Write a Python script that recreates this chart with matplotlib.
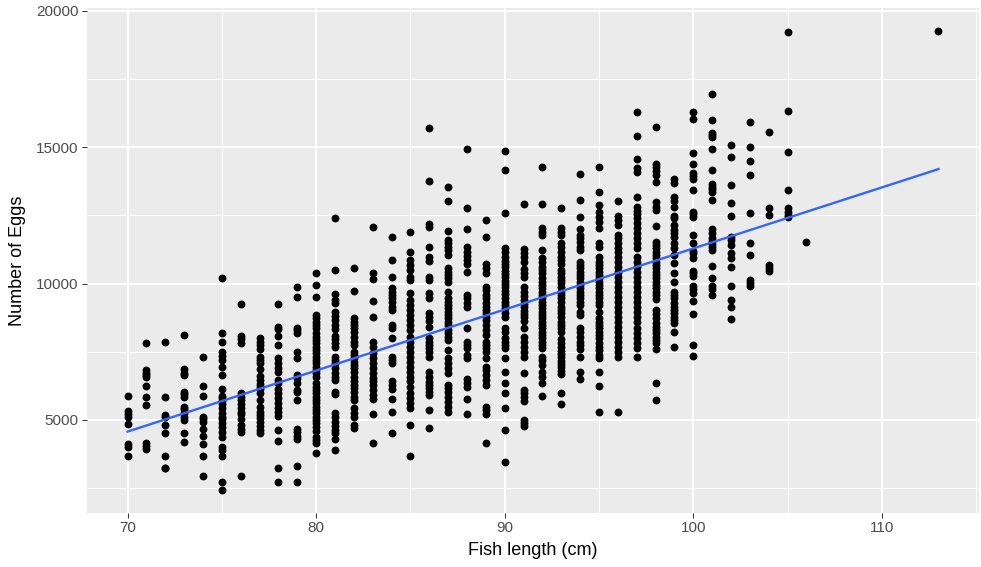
import numpy as np
import matplotlib
matplotlib.use("Agg")
import matplotlib.pyplot as plt
from matplotlib.ticker import MultipleLocator

# egg counts, one list per fish length (cm)
len70 = [5880, 5330, 5210, 5120, 4840, 4110, 4020, 3680]
len71 = [7830, 6830, 6730, 6640, 6560, 6250, 5830, 5550, 4150, 4050, 3950]
len72 = [7870, 5830, 5180, 5120, 4820, 4510, 3660, 3250, 3220]
len73 = [8100, 6860, 6730, 6640, 6030, 5940, 5850, 5490, 5390, 5270, 5100, 5000, 4510, 4180]
len74 = [7320, 6250, 5880, 5120, 5030, 4940, 4680, 4410, 4110, 3680, 2950]
len75 = [10190, 8200, 7870, 7500, 7340, 7200, 6950, 6640, 6120, 5880, 5800, 5710, 5590,
         5430, 5270, 5120, 5030, 4900, 4730, 4570, 4390, 4020, 3880, 3660, 2740, 2440]
len76 = [9250, 8080, 7960, 7830, 6000, 5850, 5730, 5590, 5430, 5300, 5210, 5030, 4820,
         4660, 4570, 2950]
len77 = [7990, 7870, 7750, 7590, 7320, 7200, 7100, 6860, 6610, 6470, 6320, 6220, 6120,
         5980, 5730, 5490, 5300, 5180, 5060, 4940, 4780, 4630, 4510]
len78 = [9240, 8420, 8320, 8080, 7750, 7260, 7080, 6890, 6770, 6470, 6370, 6120, 5980,
         5800, 5610, 5430, 5300, 5150, 4630, 4240, 3250, 2730]
len79 = [9860, 9500, 8360, 8300, 8200, 7500, 7260, 6650, 6530, 6340, 6100, 6040, 5730,
         4660, 4540, 4410, 4290, 3320, 2730]
len80 = [10370, 9950, 9500, 8850, 8730, 8600, 8480, 8360, 8180, 8050, 7930, 7810, 7690,
         7560, 7440, 7320, 7200, 7080, 6950, 6830, 6710, 6590, 6340, 6220, 6100, 5980,
         5850, 5730, 5610, 5490, 5370, 5250, 5120, 5000, 4880, 4730, 4610, 4390, 4270,
         4150, 3780]
len81 = [12410, 10500, 9620, 9400, 9270, 8970, 8810, 8660, 8480, 8320, 8080, 7960, 7810,
         7690, 7320, 7200, 7080, 6890, 6710, 6590, 6470, 6040, 5950, 5250, 5120, 4940,
         4780, 4630, 4510, 4290, 3880]
len82 = [10560, 9740, 8730, 8600, 8480, 8360, 8240, 8050, 7870, 7750, 7500, 7380, 7260,
         7140, 7020, 6890, 6770, 6590, 6410, 6280, 6160, 6040, 5850, 5730, 5430, 5250,
         5120, 4820, 4700]
len83 = [12060, 10370, 10150, 9370, 8760, 7870, 7690, 7440, 7260, 7080, 6890, 6710, 6530,
         6410, 6280, 6100, 5920, 5760, 5220, 4150]
len84 = [11690, 10860, 10230, 9820, 9700, 9580, 9460, 9330, 9150, 9030, 8480, 8360, 7990,
         7320, 7200, 7080, 6410, 6280, 6120, 5760, 5300, 4510]
len85 = [11900, 11170, 10860, 10680, 10500, 10250, 10130, 9640, 9400, 9210, 9030, 8850,
         8660, 8480, 8300, 8050, 7870, 7690, 7500, 7320, 7140, 6950, 6770, 6590, 6410,
         6220, 5980, 5800, 5610, 5430, 4820, 3660]
len86 = [15690, 13770, 12180, 12060, 11350, 10980, 10840, 10250, 10130, 9640, 9460, 8930,
         8780, 8640, 8420, 7990, 7870, 7750, 7630, 7500, 7300, 6770, 6590, 6400, 6280,
         6160, 6040, 5920, 5370, 4700]
len87 = [13550, 13020, 11930, 11590, 11470, 11350, 11230, 11040, 10560, 10430, 10310,
         10190, 10070, 9700, 9460, 9330, 9210, 9090, 8970, 8850, 8730, 8600, 8480, 8300,
         8180, 8050, 7930, 7560, 7260, 7080, 6890, 6710, 6280, 6160, 6040, 5850, 5670,
         5490, 5280]
len88 = [14950, 12780, 12010, 11330, 11170, 11010, 10860, 10710, 10410, 9580, 9460, 9280,
         9150, 8360, 7870, 7750, 7630, 7380, 7260, 6490, 6340, 6220, 5760, 5220]
len89 = [12330, 11690, 10710, 10560, 10400, 9880, 9760, 9580, 9460, 9280, 9150, 9030,
         8910, 8780, 8660, 8480, 8300, 8110, 7870, 7750, 7630, 7500, 7260, 6950, 6830,
         6650, 6470, 6280, 5490, 5370, 5220, 4150]
len90 = [14850, 14180, 12590, 11290, 11170, 10980, 10840, 10710, 10590, 10470, 10350,
         10230, 10100, 9980, 9860, 9740, 9620, 9460, 9330, 9210, 9090, 8910, 8780, 8360,
         8230, 7990, 7870, 7750, 7630, 7260, 6770, 6340, 5980, 5430, 4630, 3470]
len91 = [12910, 11250, 11110, 10960, 10800, 10520, 10370, 10230, 9860, 9700, 9540, 9400,
         9250, 9130, 9000, 8880, 8760, 8640, 8360, 8050, 7870, 7690, 7500, 7320, 6730,
         6100, 5980, 5830, 5710, 5000, 4880, 4760]
len92 = [14280, 12910, 12020, 11900, 11780, 11230, 10920, 10800, 10620, 10490, 10370,
         10190, 10070, 9950, 9820, 9700, 9580, 9460, 9330, 9210, 9090, 8970, 8850, 8730,
         8600, 8480, 8360, 8230, 8110, 7990, 7870, 7750, 7630, 7320, 7200, 7020, 6770,
         6590, 6340, 5880]
len93 = [12780, 12020, 11900, 11780, 11470, 11350, 11170, 10980, 10860, 10710, 10490,
         10370, 10250, 10130, 10010, 9860, 9700, 9580, 9460, 9330, 9150, 9030, 8910, 8780,
         8600, 8480, 8360, 8230, 7960, 7830, 7660, 7540, 7420, 7300, 7170, 7050, 6930,
         6810, 6690, 6000, 5590]
len94 = [14010, 13080, 12450, 11990, 11780, 11660, 11530, 11350, 11230, 10800, 10680,
         10560, 10430, 10310, 10190, 10070, 9950, 9820, 9700, 9580, 9460, 9330, 9210, 8970,
         8850, 8360, 8230, 8050, 7870, 7750, 7590, 7300, 6770, 6490]
len95 = [14280, 13360, 12880, 12630, 12450, 12260, 12020, 11470, 11350, 10980, 10800,
         10680, 10560, 10430, 10310, 10190, 10070, 9950, 9820, 9700, 9580, 9460, 9330,
         9210, 8970, 8730, 8600, 8480, 8360, 8230, 8110, 7990, 7810, 7690, 7560, 7380,
         7260, 6770, 6260, 5280]
len96 = [13030, 12470, 12330, 12140, 11780, 11660, 11470, 11290, 11170, 10980, 10800,
         10620, 10430, 10250, 10070, 9880, 9700, 9520, 9330, 9150, 8970, 8780, 8600, 8420,
         8230, 8050, 7870, 7690, 7500, 7320, 5300]
len97 = [16290, 15400, 14550, 14220, 14100, 13180, 12790, 12670, 12550, 12390, 12210,
         12020, 11840, 11660, 11470, 11290, 10980, 10800, 10620, 10430, 10250, 10070, 9880,
         9700, 9520, 9330, 9150, 8970, 8780, 8600, 8360, 8180, 7990, 7810, 7630, 7300]
len98 = [15740, 14400, 14280, 14130, 13970, 13730, 13000, 12810, 12690, 12110, 11530,
         11410, 11290, 11170, 11040, 10920, 10800, 10680, 10560, 10430, 10310, 10190,
         10070, 9950, 9820, 9700, 9580, 9420, 9030, 8880, 8730, 8540, 8420, 8300, 8180,
         8050, 7930, 7810, 7590, 6370, 5730]
len99 = [13820, 13690, 13160, 13030, 12790, 12470, 12390, 12140, 11960, 11840, 11710,
         11470, 11290, 11040, 10740, 10370, 10070, 9700, 9580, 9460, 9280, 9150, 9030,
         8910, 8780, 8660, 8540, 8230, 7690]
len100 = [16290, 16050, 14770, 14380, 14060, 13940, 13820, 13430, 12630, 12550, 12450,
          11780, 11470, 11200, 11110, 10920, 10470, 10370, 10280, 9910, 9790, 9640, 9370,
          8880, 7750, 7340]
len101 = [16940, 15990, 15520, 15440, 15360, 14950, 14180, 13650, 13550, 13450, 13360,
          13080, 11990, 11840, 11660, 11570, 11450, 11350, 11230, 10640, 10190, 9910,
          9790, 9580]
len102 = [15070, 14650, 13610, 12940, 12470, 11690, 11590, 11410, 11130, 10920, 10590,
          9910, 9400, 9150, 8690]
len103 = [15930, 15010, 14500, 13970, 12590, 11470, 11040, 10130, 10010, 9910]
len104 = [15560, 12760, 12510, 10680, 10560, 10470]
len105 = [19220, 16330, 14830, 13430, 12760, 12630, 12510, 12430]
len106 = [11510]
len113 = [19260]

lengths = list(range(70, 107)) + [113]
columns = [len70, len71, len72, len73, len74, len75, len76, len77, len78, len79,
           len80, len81, len82, len83, len84, len85, len86, len87, len88, len89,
           len90, len91, len92, len93, len94, len95, len96, len97, len98, len99,
           len100, len101, len102, len103, len104, len105, len106, len113]

x = np.concatenate([[L] * len(c) for L, c in zip(lengths, columns)]).astype(float)
y = np.concatenate(columns).astype(float)

# trend line: least-squares fit through the points
coef = np.polyfit(x, y, 1)
grid = np.linspace(x.min(), x.max(), 80)
smooth = np.polyval(coef, grid)

plt.rcParams["font.family"] = ["Liberation Sans", "DejaVu Sans"]

fig = plt.figure(figsize=(9.81, 5.67), dpi=100)
ax = fig.add_axes([87 / 981, 1 - 512.7 / 567, (979 - 87) / 981, (512.7 - 8) / 567])
ax.set_facecolor("#EBEBEB")

ax.scatter(x, y, s=32, color="black", linewidths=0, zorder=3)
ax.plot(grid, smooth, color="#3366FF", linewidth=1.7, zorder=4)

ax.margins(0.05)
ax.xaxis.set_major_locator(MultipleLocator(10))
ax.xaxis.set_minor_locator(MultipleLocator(5))
ax.yaxis.set_major_locator(MultipleLocator(5000))
ax.yaxis.set_minor_locator(MultipleLocator(2500))
ax.grid(which="major", color="white", linewidth=1.45, zorder=0)
ax.grid(which="minor", color="white", linewidth=0.7, zorder=0)
ax.set_axisbelow(True)

for side in ax.spines.values():
    side.set_visible(False)
ax.tick_params(which="major", length=3.6, width=0.75, color="#333333",
               labelsize=11, labelcolor="#4D4D4D", pad=2.5)
ax.tick_params(which="minor", length=0)

ax.set_xlabel("Fish length (cm)", fontsize=13, labelpad=5)
ax.set_ylabel("Number of Eggs", fontsize=13, labelpad=7)

fig.savefig("out.png", dpi=100)
